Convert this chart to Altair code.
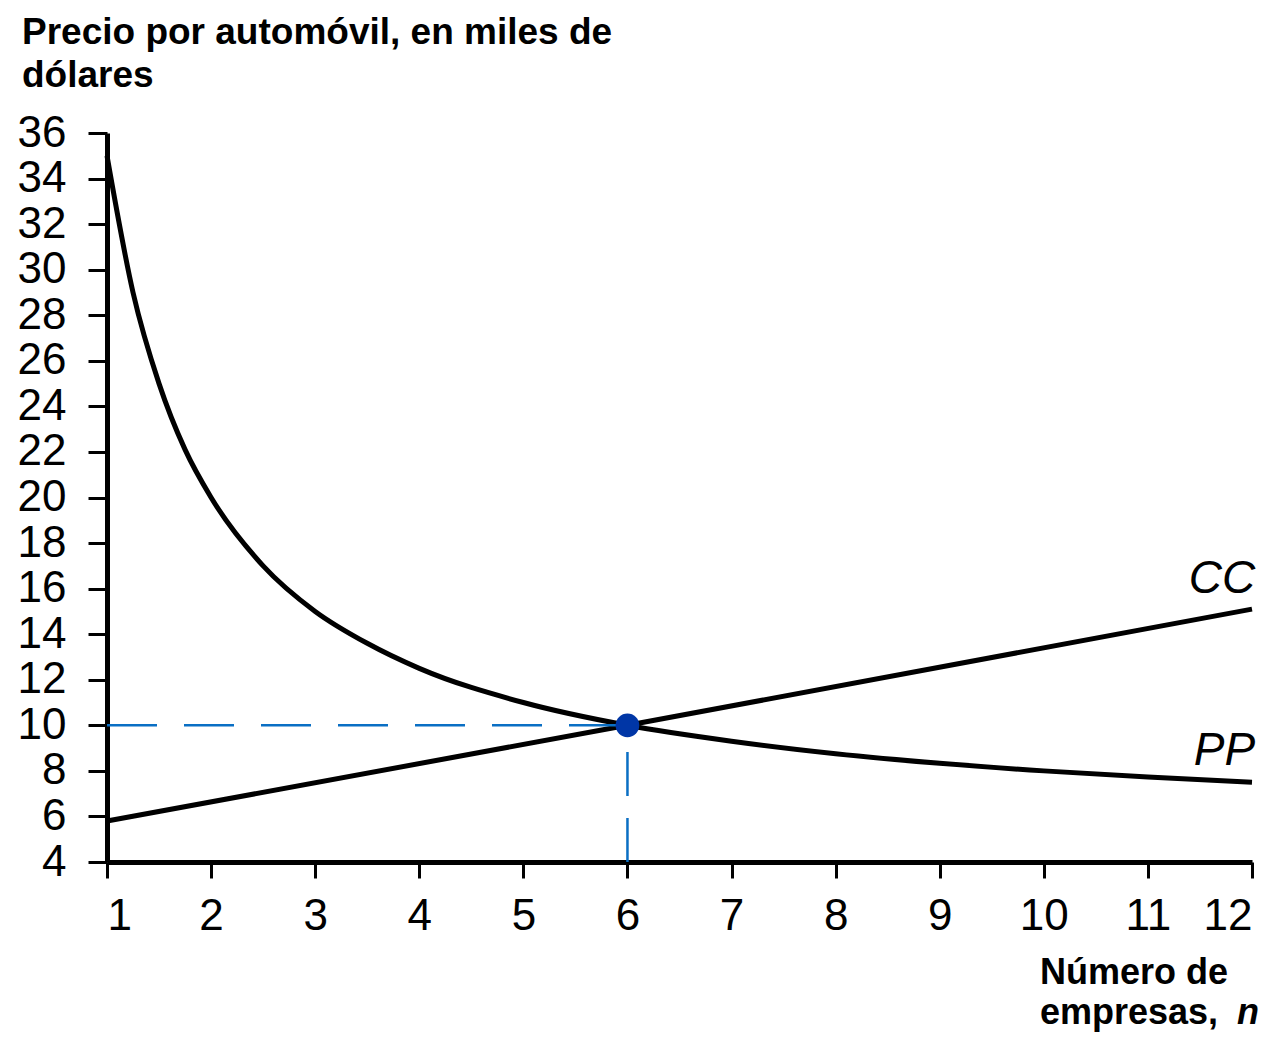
import altair as alt
import pandas as pd

# Data
pp_n = [1, 1.25, 1.5, 1.75, 2, 2.5, 3, 3.5, 4, 5, 6, 7, 8, 9, 10, 11, 12]
pp_p = [35, 29, 25, 22.1, 20, 17, 15, 13.6, 12.5, 11, 10, 9.3, 8.75, 8.33, 8, 7.73, 7.5]
cc_n = [1, 6, 12]
cc_p = [5.8, 10, 15.1]
eq_n = [6]
eq_p = [10]
x_ticks = list(range(1, 13))
y_ticks = list(range(4, 37, 2))

pp = pd.DataFrame({"n": pp_n, "p": pp_p})
cc = pd.DataFrame({"n": cc_n, "p": cc_p})
eq = pd.DataFrame({"n": eq_n, "p": eq_p})
h_dash = pd.DataFrame({"n": [1], "n2": eq_n, "p": eq_p})
v_dash = pd.DataFrame({"n": eq_n, "p": [4], "p2": eq_p})
labels = pd.DataFrame({"n": [12.03, 12.03], "p": [15.8, 8.25], "t": ["CC", "PP"]})

xs = alt.Scale(domain=[1, 12], nice=False, zero=False)
ys = alt.Scale(domain=[4, 36], nice=False, zero=False)

x_axis = alt.Axis(values=x_ticks, title=None, tickSize=16, labelPadding=16,
                  labelFontSize=44, format="d")
y_axis = alt.Axis(values=y_ticks, title=None, tickSize=19, labelPadding=22,
                  labelFontSize=44, format="d")

base_pp = alt.Chart(pp).mark_line(color="black", strokeWidth=5, interpolate="monotone").encode(
    x=alt.X("n:Q", scale=xs, axis=x_axis),
    y=alt.Y("p:Q", scale=ys, axis=y_axis),
)
line_cc = alt.Chart(cc).mark_line(color="black", strokeWidth=5).encode(x="n:Q", y="p:Q")

hd = alt.Chart(h_dash).mark_rule(color="#0a6fc4", strokeWidth=2.5, strokeDash=[50, 27]).encode(
    x="n:Q", x2="n2:Q", y="p:Q")
vd = alt.Chart(v_dash).mark_rule(color="#0a6fc4", strokeWidth=2.5, strokeDash=[44, 22]).encode(
    x="n:Q", y="p:Q", y2="p2:Q")

pt = alt.Chart(eq).mark_point(filled=True, color="#0036a6", size=560, opacity=1, shape="circle").encode(
    x="n:Q", y="p:Q")

lbl = alt.Chart(labels).mark_text(font="Liberation Sans", fontSize=46, fontStyle="italic",
                                  align="right", baseline="alphabetic", color="black").encode(
    x="n:Q", y="p:Q", text="t:N")

title_font = "Liberation Sans Narrow, Arial Narrow, Liberation Sans"
ytitle = alt.Chart(pd.DataFrame({"a": [0]})).mark_text(
    text=["Precio por automóvil, en miles de", "dólares"], font=title_font, fontWeight="bold",
    fontSize=37, lineHeight=43, align="left", baseline="alphabetic", color="black").encode(
    x=alt.value(-85), y=alt.value(-89))

xt1 = alt.Chart(pd.DataFrame({"a": [0]})).mark_text(
    text="Número de", font="Liberation Sans", fontWeight="bold", fontSize=36,
    align="left", baseline="alphabetic", color="black").encode(x=alt.value(933), y=alt.value(851))
xt2 = alt.Chart(pd.DataFrame({"a": [0]})).mark_text(
    text="empresas,", font="Liberation Sans", fontWeight="bold", fontSize=36,
    align="left", baseline="alphabetic", color="black").encode(x=alt.value(933), y=alt.value(891))
xt3 = alt.Chart(pd.DataFrame({"a": [0]})).mark_text(
    text="n", font="Liberation Sans", fontWeight="bold", fontStyle="italic", fontSize=36,
    align="left", baseline="alphabetic", color="black").encode(x=alt.value(1130), y=alt.value(891))

chart = alt.layer(base_pp, line_cc, hd, vd, pt, lbl, ytitle, xt1, xt2, xt3).properties(
    width=1145, height=729,
    padding={"left": 99, "top": 125, "right": 20, "bottom": 170},
    autosize=alt.AutoSizeParams(type="none"),
    background="white",
).configure_view(stroke=None).configure_axis(
    domainWidth=5, domainColor="black", tickWidth=3, tickColor="black", grid=False,
    labelFont="Liberation Sans", labelColor="black",
)

chart.save("out.html", embed_options={"renderer": "svg", "actions": False})
